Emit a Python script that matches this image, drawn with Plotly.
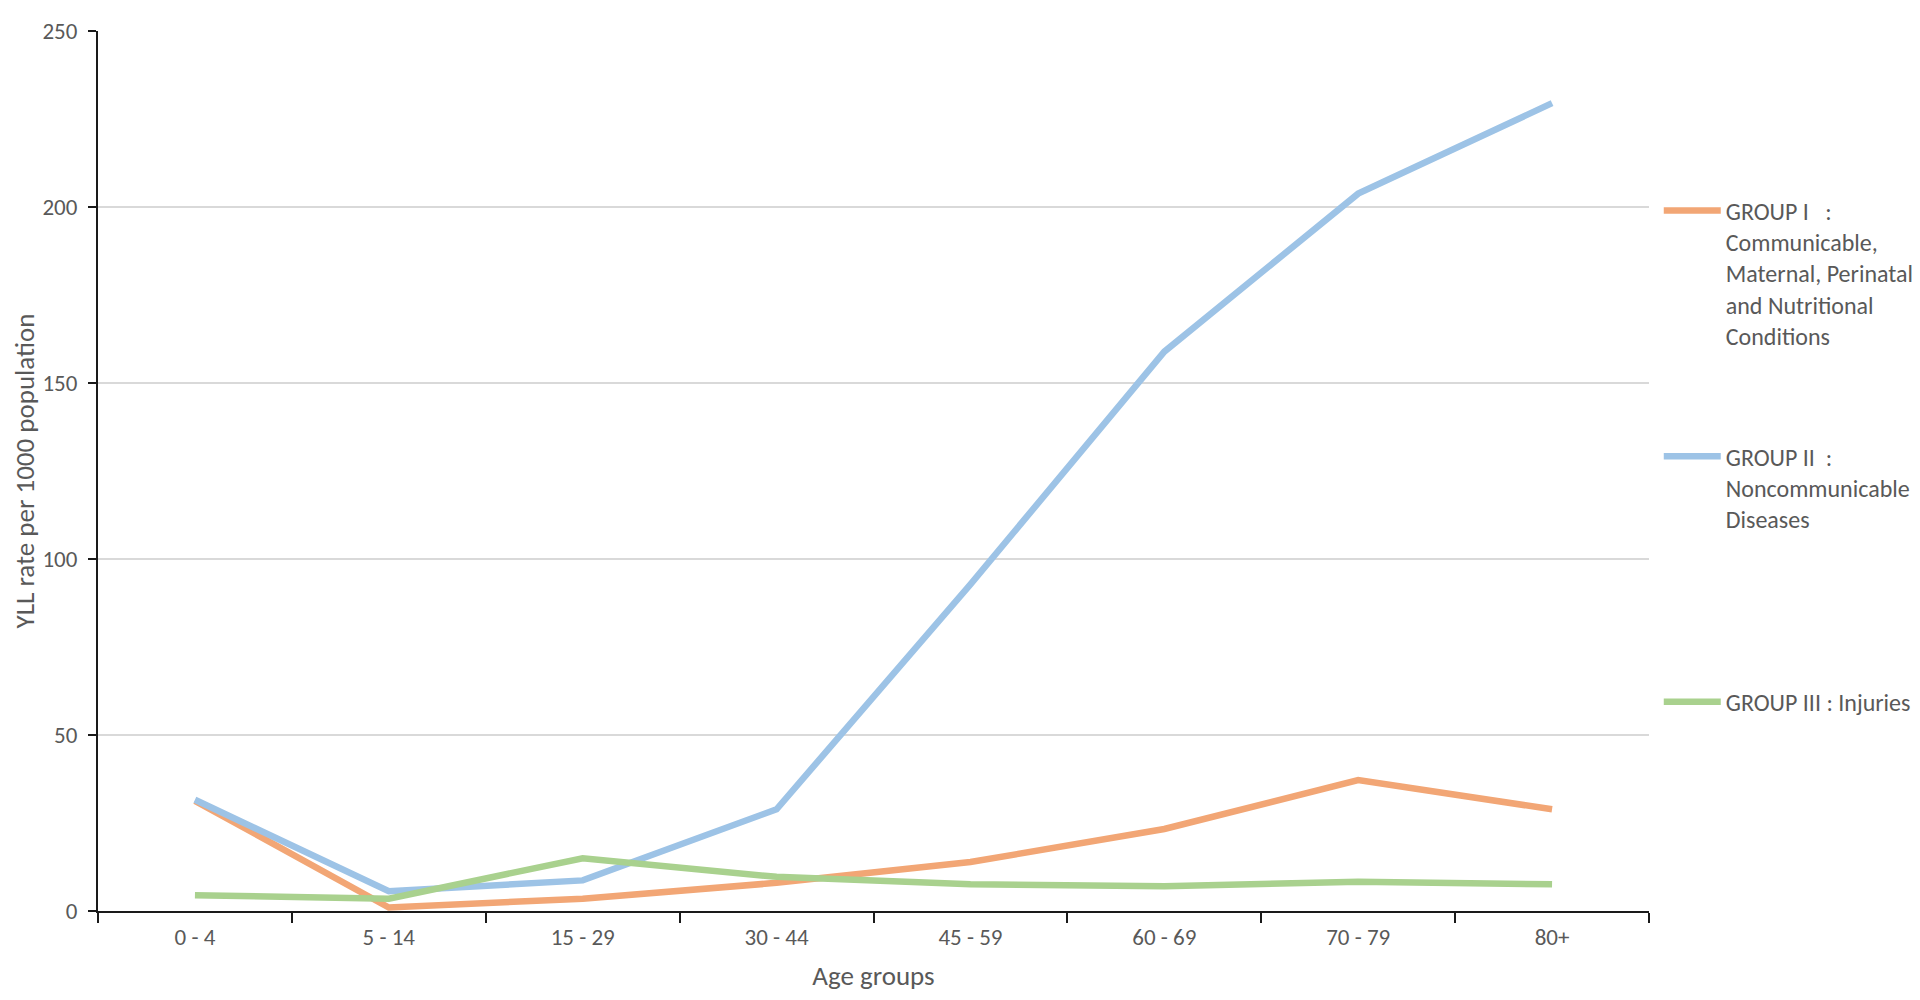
import plotly.graph_objects as go

# Data
age_groups = ["0 - 4", "5 - 14", "15 - 29", "30 - 44", "45 - 59", "60 - 69", "70 - 79", "80+"]
group1 = [31.3, 1.0, 3.5, 8.0, 13.9, 23.3, 37.2, 28.9]
group2 = [31.6, 5.6, 8.7, 28.9, 92.8, 158.9, 203.8, 229.5]
group3 = [4.5, 3.5, 15.0, 9.7, 7.6, 7.0, 8.3, 7.6]

names = [
    "GROUP I   :<br>Communicable,<br>Maternal, Perinatal<br>and Nutritional<br>Conditions",
    "GROUP II  :<br>Noncommunicable<br>Diseases",
    "GROUP III : Injuries",
]
colors = ["#F2A675", "#9DC3E6", "#A9D18E"]
series = [group1, group2, group3]
legends = ["legend", "legend2", "legend3"]

font_family = "Carlito, Calibri, Lato, sans-serif"
text_color = "#595959"

fig = go.Figure()
for vals, name, col, lg in zip(series, names, colors, legends):
    fig.add_trace(go.Scatter(
        x=age_groups, y=vals, name=name, mode="lines",
        line=dict(color=col, width=6.5),
        legend=lg, showlegend=True,
    ))

# container-referenced legends do not push the plot margins
legend_style = dict(
    font=dict(size=24, color=text_color, family=font_family),
    bgcolor="rgba(0,0,0,0)",
    xref="container", yref="paper",
    x=0.867, xanchor="left", yanchor="top",
    valign="top", itemwidth=57,
)

# the page body has an 8px margin, so the figure is sized/offset to compensate
fig.update_layout(
    width=1904, height=984,
    margin=dict(l=90, r=263, t=23, b=81),
    paper_bgcolor="white", plot_bgcolor="white",
    font=dict(family=font_family, color=text_color, size=22),
    showlegend=True,
    legend=dict(y=0.821, **legend_style),
    legend2=dict(y=0.542, **legend_style),
    legend3=dict(y=0.263, **legend_style),
    xaxis=dict(
        title=dict(text="Age groups", font=dict(size=27, color=text_color), standoff=20),
        type="category", range=[-0.5, 7.5], automargin=False,
        showline=True, linecolor="#1a1a1a", linewidth=2,
        ticks="outside", tickson="boundaries", ticklen=10, tickwidth=2, tickcolor="#1a1a1a",
        tickfont=dict(size=23, color=text_color), ticklabelstandoff=4,
        showgrid=False,
    ),
    yaxis=dict(
        title=dict(text="YLL rate per 1000 population", font=dict(size=27, color=text_color), standoff=10),
        range=[0, 250], dtick=50, automargin=False,
        showline=True, linecolor="#1a1a1a", linewidth=2,
        ticks="outside", ticklen=8, tickwidth=2, tickcolor="#1a1a1a",
        tickfont=dict(size=23, color=text_color), ticklabelstandoff=6,
        showgrid=True, gridcolor="#D9D9D9", gridwidth=2,
        zeroline=False,
    ),
)

fig.write_html("out.html")
